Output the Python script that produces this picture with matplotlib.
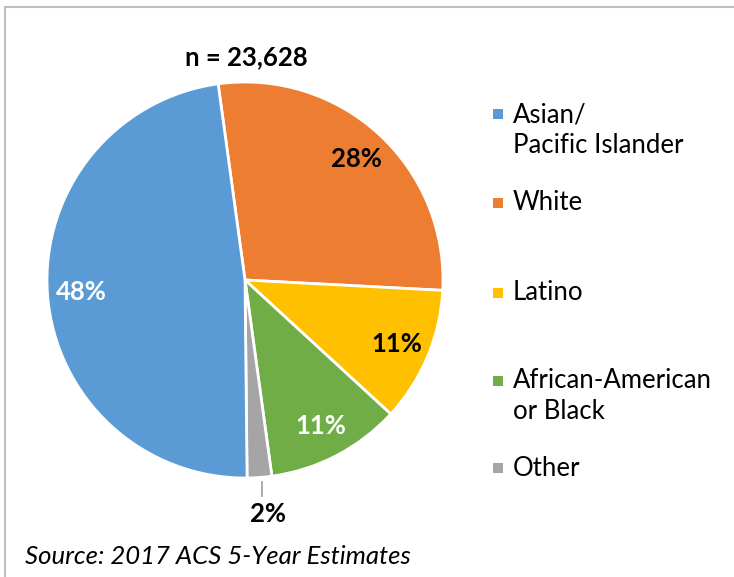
import matplotlib
matplotlib.use("Agg")
import matplotlib.pyplot as plt
from matplotlib.patches import Rectangle
import numpy as np

plt.rcParams['font.family'] = ['Lato', 'DejaVu Sans']

# Population share by race/ethnicity (percent)
groups = ['White', 'Latino', 'African-American\nor Black', 'Other', 'Asian/\nPacific Islander']
shares = [28, 11, 11, 2, 48]
colors = ['#ED7D31', '#FFC000', '#70AD47', '#A5A5A5', '#5B9BD5']
pct_colors = ['black', 'black', 'white', 'black', 'white']

# legend order (top to bottom), text centre and marker position for each entry
legend_order = [4, 0, 1, 2, 3]
legend_y = [130, 203, 293, 396, 468]
marker_y = [114, 203, 293, 381, 468]

W, H = 734, 577
fs = 18.5
fig = plt.figure(figsize=(W / 100, H / 100), dpi=100)

# thin grey frame around the chart area
fig.patches.append(Rectangle((5 / W, -0.1), 1.2, 1 - 7 / H + 0.1, transform=fig.transFigure,
                             fill=False, edgecolor='#BFBFBF', linewidth=1.5))

cx, cy, r = 245, 280, 198
ax = fig.add_axes([(cx - r) / W, (H - cy - r) / H, 2 * r / W, 2 * r / H])
wedges, _ = ax.pie(shares, colors=colors, startangle=97.8, counterclock=False,
                   wedgeprops=dict(edgecolor='white', linewidth=2))
ax.set_xlim(-1, 1)
ax.set_ylim(-1, 1)
ax.set_aspect('equal')
ax.axis('off')

for w, s, c in zip(wedges, shares, pct_colors):
    mid = np.deg2rad((w.theta1 + w.theta2) / 2)
    if s < 5:
        # small slice: label below with a short vertical leader
        lx = np.cos(mid) + 0.012
        ax.plot([lx, lx], [-1.02, -1.09], color='#A5A5A5', lw=1.3, clip_on=False)
        ax.text(lx + 0.03, -1.18, f'{s}%', ha='center', va='center',
                fontsize=fs, fontweight='bold', color=c)
    else:
        d = 0.83
        ax.text(d * np.cos(mid), d * np.sin(mid), f'{s}%', ha='center', va='center',
                fontsize=fs, fontweight='bold', color=c)

fig.text(246 / W, 1 - 57 / H, 'n = 23,628', ha='center', va='center',
         fontsize=fs, fontweight='bold')

# legend entries
for i, y, my in zip(legend_order, legend_y, marker_y):
    fig.patches.append(Rectangle((493 / W, 1 - (my + 5) / H), 10 / W, 10 / H,
                                 transform=fig.transFigure, facecolor=colors[i], edgecolor='none'))
    fig.text(513 / W, 1 - y / H, groups[i], ha='left', va='center', fontsize=fs,
             linespacing=1.26)

fig.text(25 / W, 1 - 557 / H, 'Source: 2017 ACS 5-Year Estimates', ha='left', va='center',
         fontsize=fs, style='italic')

fig.savefig('out.png', dpi=100)
